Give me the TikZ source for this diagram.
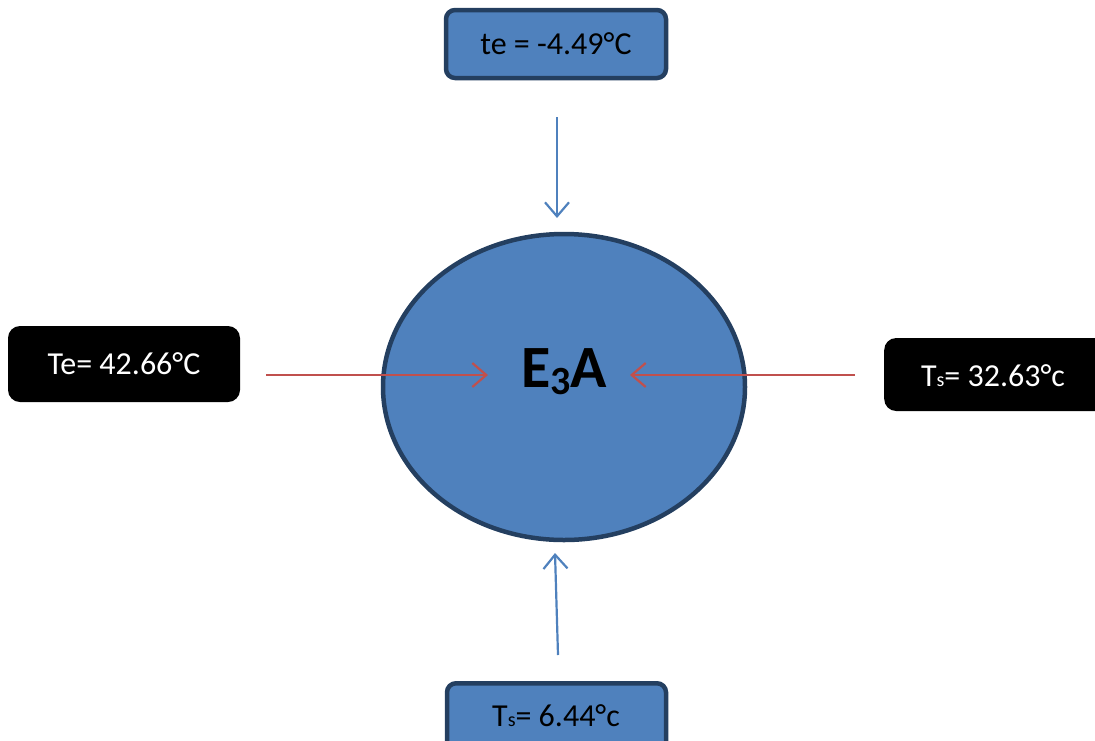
\documentclass[tikz,border=0pt]{standalone}
\usepackage{fontspec}
\setmainfont{Carlito}
\usetikzlibrary{arrows.meta,shapes.geometric}
\definecolor{accblue}{HTML}{4F81BD}
\definecolor{darkedge}{HTML}{243F60}
\definecolor{accred}{HTML}{C0504D}
\tikzset{
  bluebox/.style={draw=darkedge, line width=4.5pt, fill=accblue, rounded corners=9pt, inner sep=0pt, font=\fontsize{32}{36}\selectfont},
  blackbox/.style={fill=black, text=white, rounded corners=12pt, inner sep=0pt, font=\fontsize{32}{36}\selectfont},
  bluearrow/.style={draw=accblue, line width=2.2pt, -{Straight Barb[length=14pt,width=24pt,line width=2.2pt]}},
  redarrow/.style={draw=accred, line width=2.2pt, -{Straight Barb[length=14pt,width=24pt,line width=2.2pt]}},
}
\begin{document}
\begin{tikzpicture}[x=1pt,y=-1pt]
\useasboundingbox (0,0) rectangle (1095,740);
% ellipse
\node[draw=darkedge, line width=4.5pt, fill=accblue, ellipse, minimum width=362pt, minimum height=306pt, inner sep=0pt] (e) at (564,387) {};
\node[font=\fontsize{60}{64}\bfseries\selectfont] (lbl) at (564,372) {E\raisebox{-0.12em}{\fontsize{40}{42}\selectfont 3}A};
% boxes
\node[bluebox, minimum width=220pt, minimum height=68pt] (top) at (556,44) {te = -4.49°C};
\node[bluebox, minimum width=219pt, minimum height=68pt, anchor=north] (bot) at (556.5,681) {};
\node at (556,716) [font=\fontsize{32}{36}\selectfont] (bottxt) {T{\fontsize{20}{22}\selectfont s}= 6.44°c};
\node[blackbox, minimum width=232pt, minimum height=76pt] (left) at (124,364) {Te= 42.66°C};
\node[blackbox, minimum width=230pt, minimum height=73pt, anchor=west] (right) at (884,374.5) {};
\node[font=\fontsize{32}{36}\selectfont, text=white] (righttxt) at (993,376) {T{\fontsize{20}{22}\selectfont s}= 32.63°c};
% arrows
\coordinate (a1) at (557,117);
\coordinate (a1e) at (557,218);
\coordinate (a2) at (558,655);
\coordinate (a2e) at (555,553);
\coordinate (a3) at (266,375);
\coordinate (a3e) at (488,375);
\coordinate (a4) at (855,375);
\coordinate (a4e) at (630,375);
\draw[bluearrow] (a1) -- (a1e);
\draw[bluearrow] (a2) -- (a2e);
\draw[redarrow] (a3) -- (a3e);
\draw[redarrow] (a4) -- (a4e);
\end{tikzpicture}
\end{document}
